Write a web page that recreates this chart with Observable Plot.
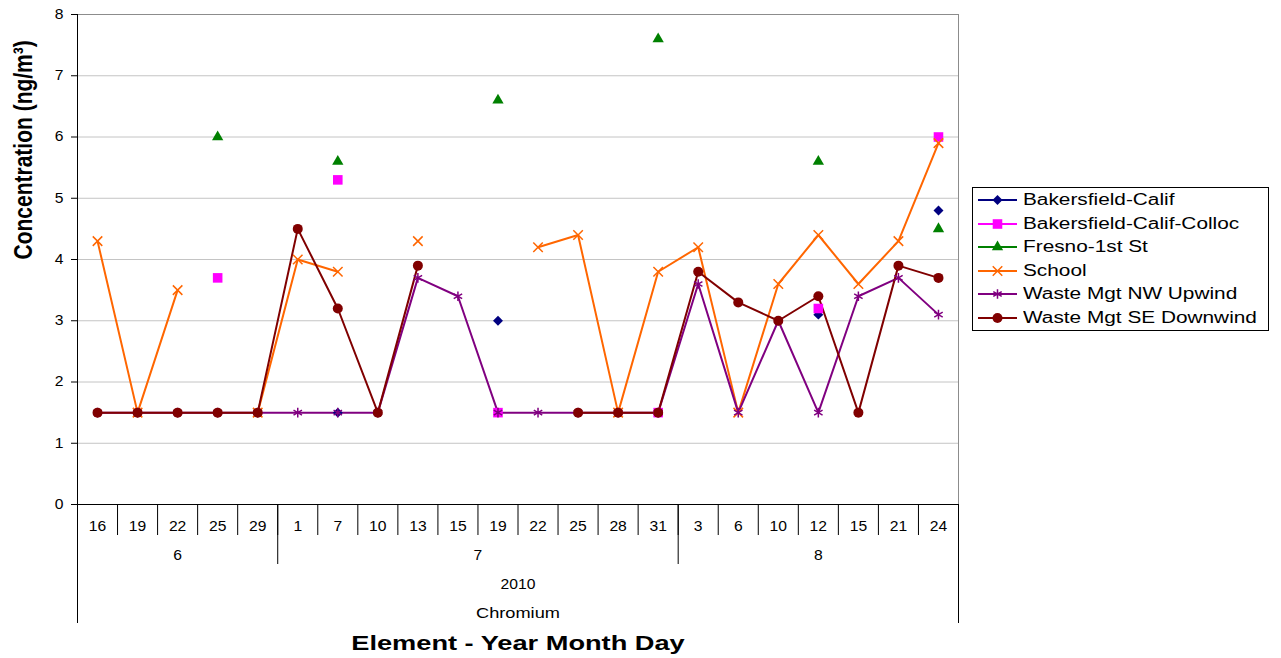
<!DOCTYPE html>
<html><head><meta charset="utf-8">
<script src="https://cdn.jsdelivr.net/npm/d3@7"></script>
<script src="https://cdn.jsdelivr.net/npm/@observablehq/plot@0.6"></script>
<style>
body{margin:0;background:#fff;font-family:"Liberation Sans",Arial,sans-serif;}
#wrap{position:relative;width:1281px;height:658px;overflow:hidden;}
#legend{position:absolute;left:972px;top:187px;width:297px;height:144px;border:1px solid #000;box-sizing:border-box;background:#fff;}
#legend .row{position:absolute;left:0;height:20px;width:290px;}
#legend svg{position:absolute;left:3px;top:0;}
#legend span{position:absolute;left:50px;top:0;line-height:20px;font-size:16px;color:#000;white-space:nowrap;transform:scaleX(1.3);transform-origin:left center;}
</style></head><body><div id="wrap"></div>
<script>
// ---- data ----
const days = ["16","19","22","25","29","1","7","10","13","15","19","22","25","28","31","3","6","10","12","15","21","24"];
const months = ["6","7","8"];
const monthDayCounts = [5, 10, 7];
const yearLabel = "2010";
const elementLabel = "Chromium";
const xTitle = "Element - Year Month Day";
const yTitle = "Concentration (ng/m³)";
const yTicks = [0,1,2,3,4,5,6,7,8];

const seriesNames = ["Bakersfield-Calif","Bakersfield-Calif-Colloc","Fresno-1st St","School","Waste Mgt NW Upwind","Waste Mgt SE Downwind"];
const bakersfield       = [null,null,null,null,null,null,1.5,null,null,null,3.0,null,null,null,null,null,null,null,3.1,null,null,4.8];
const bakersfieldColloc = [null,null,null,3.7,null,null,5.3,null,null,null,1.5,null,null,null,1.5,null,null,null,3.2,null,null,6.0];
const fresno            = [null,null,null,6.0,null,null,5.6,null,null,null,6.6,null,null,null,7.6,null,null,null,5.6,null,null,4.5];
const school            = [4.3,1.5,3.5,null,1.5,4.0,3.8,null,4.3,null,null,4.2,4.4,1.5,3.8,4.2,1.5,3.6,4.4,3.6,4.3,5.9];
const nwUpwind          = [1.5,1.5,1.5,1.5,1.5,1.5,1.5,1.5,3.7,3.4,1.5,1.5,1.5,1.5,1.5,3.6,1.5,3.0,1.5,3.4,3.7,3.1];
const seDownwind        = [1.5,1.5,1.5,1.5,1.5,4.5,3.2,1.5,3.9,null,null,null,1.5,1.5,1.5,3.8,3.3,3.0,3.4,1.5,3.9,3.7];

// ---- styles ----
const seriesValues = [bakersfield, bakersfieldColloc, fresno, school, nwUpwind, seDownwind];
const colors  = ["#000080","#ff00ff","#008000","#ff6600","#800080","#800000"];
const symbols = ["diamond2","square","triangle","times","asterisk","circle"];
const d3symbols = [d3.symbolDiamond2, d3.symbolSquare, d3.symbolTriangle, d3.symbolTimes, d3.symbolAsterisk, d3.symbolCircle];
const radii   = [4.5, 5.4, 4.2, 4.4, 4.6, 5];
const strokeSym = [false,false,false,true,true,false];

const n = days.length;
const idx = d3.range(n);
const starts = monthDayCounts.map((c, k) => d3.sum(monthDayCounts.slice(0, k)));
const monthCenters = starts.map((s, k) => s + (monthDayCounts[k] - 1) / 2);
const monthSeps = [-0.5, ...starts.slice(1).map(s => s - 0.5), n - 0.5];
const daySeps = d3.range(n + 1).map(i => i - 0.5);

const lineMarks = seriesValues.map((vals, k) =>
  Plot.line(idx, {x: i => i, y: i => vals[i] == null ? NaN : vals[i], stroke: colors[k], strokeWidth: 2}));
const dotMarks = seriesValues.map((vals, k) => {
  const pts = idx.filter(i => vals[i] != null);
  return strokeSym[k]
    ? Plot.dot(pts, {x: i => i, y: i => vals[i], symbol: symbols[k], r: radii[k], stroke: colors[k], strokeWidth: 1.5, fill: "none"})
    : Plot.dot(pts, {x: i => i, y: i => vals[i], symbol: symbols[k], r: radii[k], fill: colors[k], stroke: "none"});
});

const blank = () => "";
const chart = Plot.plot({
  width: 1281, height: 658,
  marginLeft: 77, marginRight: 323, marginTop: 14, marginBottom: 154,
  style: {fontFamily: "'Liberation Sans', Arial, sans-serif", background: "#fff", color: "#000", overflow: "visible"},
  x: {type: "linear", domain: [-0.5, n - 0.5]},
  y: {domain: [0, 8]},
  marks: [
    Plot.gridY({ticks: yTicks.slice(1, -1), stroke: "#c4c4c4", strokeOpacity: 1}),
    Plot.frame({stroke: "#8c8c8c"}),
    Plot.ruleX([-0.5], {stroke: "#000"}),
    Plot.ruleY([0], {stroke: "#000"}),
    Plot.axisY({ticks: yTicks, tickSize: 6, tickPadding: 8, fontSize: 14, label: null}),
    Plot.axisX({ticks: daySeps, tickSize: 31, tickFormat: blank, label: null}),
    Plot.axisX({ticks: monthSeps, tickSize: 60, tickFormat: blank, label: null}),
    Plot.axisX({ticks: [-0.5, n - 0.5], tickSize: 119, tickFormat: blank, label: null}),
    Plot.axisX({ticks: idx, tickSize: 0, tickPadding: 17, tickFormat: i => days[i], fontSize: 14, label: null}),
    Plot.axisX({ticks: monthCenters, tickSize: 0, tickPadding: 46, tickFormat: d => months[monthCenters.indexOf(d)], fontSize: 14, label: null}),
    Plot.axisX({ticks: [(n - 1) / 2], tickSize: 0, tickPadding: 75, tickFormat: () => yearLabel, fontSize: 14, label: null}),
    Plot.axisX({ticks: [(n - 1) / 2], tickSize: 0, tickPadding: 104, tickFormat: () => elementLabel, fontSize: 14, label: null}),
    Plot.axisX({ticks: [(n - 1) / 2], tickSize: 0, tickPadding: 131, tickFormat: () => xTitle, fontSize: 20, fontWeight: "bold", label: null}),
    Plot.text([yTitle], {frameAnchor: "left", rotate: -90, dx: -54, text: d => d, fontSize: 21, fontWeight: "bold"}),
    ...lineMarks,
    ...dotMarks
  ]
});
document.getElementById("wrap").appendChild(chart);

// widen text horizontally (reference is horizontally stretched)
d3.select(chart).selectAll("text").each(function() {
  const t = this.getAttribute("transform") || "";
  const txt = this.textContent;
  if (!txt) return;
  if (t.includes("rotate")) { this.setAttribute("transform", t + " scale(1,1.25)"); return; }
  const s = /^[0-9]+$/.test(txt) ? 1.12 : (txt === xTitle ? 1.36 : 1.3);
  const x = +this.getAttribute("x") || 0, y = +this.getAttribute("y") || 0;
  this.setAttribute("transform", `${t} translate(${x},${y}) scale(${s},1) translate(${-x},${-y})`);
});

// legend
const legend = d3.select("#wrap").append("div").attr("id", "legend");
seriesNames.forEach((name, k) => {
  const row = legend.append("div").attr("class", "row").style("top", (12 + 23.6 * k - 10) + "px");
  const svg = row.append("svg").attr("width", 44).attr("height", 20);
  svg.append("line").attr("x1", 2).attr("x2", 41).attr("y1", 10).attr("y2", 10).attr("stroke", colors[k]).attr("stroke-width", 2);
  svg.append("path").attr("transform", "translate(21.5,10)")
    .attr("d", d3.symbol(d3symbols[k], Math.PI * radii[k] * radii[k])())
    .attr("fill", strokeSym[k] ? "none" : colors[k])
    .attr("stroke", strokeSym[k] ? colors[k] : "none")
    .attr("stroke-width", 1.5);
  row.append("span").text(name);
});
</script>
</body></html>
